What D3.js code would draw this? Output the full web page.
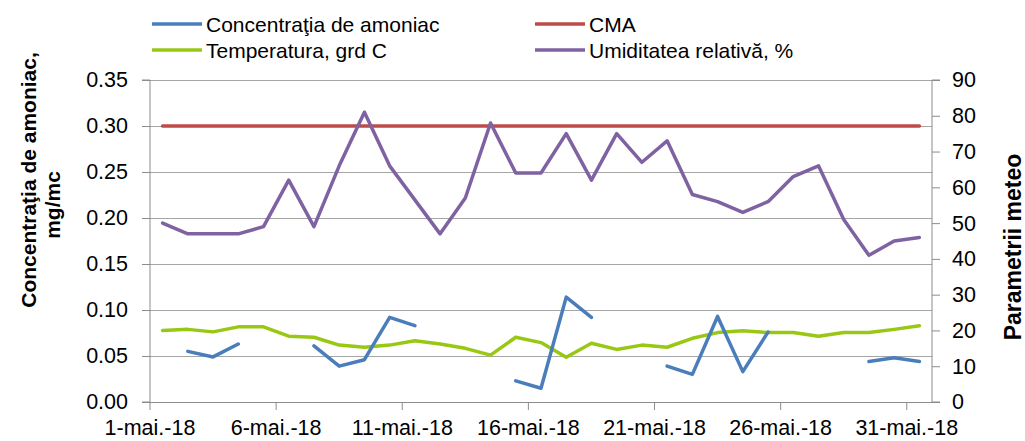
<!DOCTYPE html>
<html><head><meta charset="utf-8">
<script src="https://cdn.jsdelivr.net/npm/d3@7"></script>
<style>body{margin:0;background:#fff}svg{display:block;font-family:"Liberation Sans",Arial,sans-serif}</style>
</head><body>
<svg id="c" width="1025" height="441"></svg>
<script>
const days = d3.range(1, 32);
const xTickDays = [1, 6, 11, 16, 21, 26, 31];
const xTickLabels = ["1-mai.-18","6-mai.-18","11-mai.-18","16-mai.-18","21-mai.-18","26-mai.-18","31-mai.-18"];
const leftTicks = [0,0.05,0.10,0.15,0.20,0.25,0.30,0.35];
const rightTicks = [0,10,20,30,40,50,60,70,80,90];
const ammonia = [null,0.055,0.049,0.063,null,null,0.061,0.039,0.046,0.092,0.083,null,null,null,0.023,0.015,0.114,0.092,null,null,0.039,0.030,0.093,0.033,0.076,null,null,null,0.044,0.048,0.044];
const cma = days.map(() => 0.30);
const temperature = [20,20.3,19.6,21,21,18.4,18.1,15.9,15.3,15.9,17.1,16.2,15.0,13.1,18.1,16.6,12.5,16.4,14.7,15.9,15.3,17.8,19.4,19.9,19.4,19.4,18.4,19.4,19.4,20.3,21.3];
const humidity = [50,47,47,47,49,62,49,66,81,66,56.5,47,57,78,64,64,75,62,75,67,73,58,56,53,56,63,66,51,41,45,46];
const seriesNames = ["Concentraţia de amoniac","CMA","Temperatura, grd C","Umiditatea relativă, %"];
const colors = ["#4A7EBB","#BE4B48","#98C814","#7F62A1"];

const svg = d3.select("#c");
const L = 150, R = 932, T = 80, B = 402;
const x = d3.scaleBand().domain(days).range([L, R]).paddingInner(0).paddingOuter(0);
const cx = d => x(d) + x.bandwidth() / 2;
const yL = d3.scaleLinear().domain([0, 0.35]).range([B, T]);
const yR = d3.scaleLinear().domain([0, 90]).range([B, T]);
const tickFont = "21.5px";

// gridlines
svg.append("g").selectAll("line").data(leftTicks).join("line")
  .attr("x1", L).attr("x2", R).attr("y1", d => yL(d)).attr("y2", d => yL(d))
  .attr("stroke", "#A6A6A6").attr("stroke-width", 1).attr("shape-rendering","crispEdges");

// left axis
const gl = svg.append("g").attr("transform", `translate(${L},0)`)
  .call(d3.axisLeft(yL).tickValues(leftTicks).tickFormat(d3.format(".2f")).tickSize(8).tickPadding(14));
// right axis
const gr = svg.append("g").attr("transform", `translate(${R},0)`)
  .call(d3.axisRight(yR).tickValues(rightTicks).tickFormat(d3.format("d")).tickSize(8).tickPadding(12));
// bottom axis
const gb = svg.append("g").attr("transform", `translate(0,${B})`)
  .call(d3.axisBottom(x).tickValues(xTickDays).tickFormat((d,i) => xTickLabels[i]).tickSize(8).tickPadding(6).tickSizeOuter(0));
gb.selectAll(".tick").attr("transform", d => `translate(${x(d)},0)`);
gb.select(".domain").attr("d", `M${L},0.5H${R}`);

[gl, gr, gb].forEach(g => {
  g.selectAll(".domain").attr("stroke", "#8C8C8C");
  g.selectAll(".tick line").attr("stroke", "#8C8C8C");
  g.selectAll("text").attr("font-size", tickFont).attr("fill", "#000").attr("font-family", '"Liberation Sans",Arial,sans-serif');
});
gl.select(".domain").attr("d", `M-8,${T}H0V${B}H-8`);
gr.select(".domain").attr("d", `M8,${T}H0V${B}H8`);
gb.selectAll("text").attr("dy", "0.9em");

// lines
const lineL = d3.line().defined(d => d.v != null).x(d => cx(d.day)).y(d => yL(d.v));
const lineR = d3.line().defined(d => d.v != null).x(d => cx(d.day)).y(d => yR(d.v));
const toPts = arr => days.map((day, i) => ({day, v: arr[i]}));
const plot = svg.append("g").attr("fill", "none").attr("stroke-width", 3.5).attr("stroke-linejoin","round").attr("stroke-linecap","round");
plot.append("path").attr("d", lineL(toPts(cma))).attr("stroke", colors[1]);
plot.append("path").attr("d", lineR(toPts(humidity))).attr("stroke", colors[3]);
plot.append("path").attr("d", lineR(toPts(temperature))).attr("stroke", colors[2]);
plot.append("path").attr("d", lineL(toPts(ammonia))).attr("stroke", colors[0]);

// legend
const legPos = [[152,24],[535,24],[152,50],[535,50]];
const lg = svg.append("g");
seriesNames.forEach((n, i) => {
  const [lx, ly] = legPos[i];
  lg.append("line").attr("x1", lx).attr("x2", lx + 50).attr("y1", ly).attr("y2", ly)
    .attr("stroke", colors[i]).attr("stroke-width", 3.5);
  lg.append("text").attr("x", lx + 54).attr("y", ly + 7.5).attr("font-size", "21px").text(n);
});

// axis titles
svg.append("text").attr("transform", "translate(36,180) rotate(-90)")
  .attr("text-anchor", "middle").attr("font-weight", "bold").attr("font-size", "21px").text("Concentraţia de amoniac,");
svg.append("text").attr("transform", "translate(60,205) rotate(-90)")
  .attr("text-anchor", "middle").attr("font-weight", "bold").attr("font-size", "21px").text("mg/mc");
svg.append("text").attr("transform", "translate(1021,247) rotate(-90)")
  .attr("text-anchor", "middle").attr("font-weight", "bold").attr("font-size", "23px").text("Parametrii meteo");
</script>
</body></html>
